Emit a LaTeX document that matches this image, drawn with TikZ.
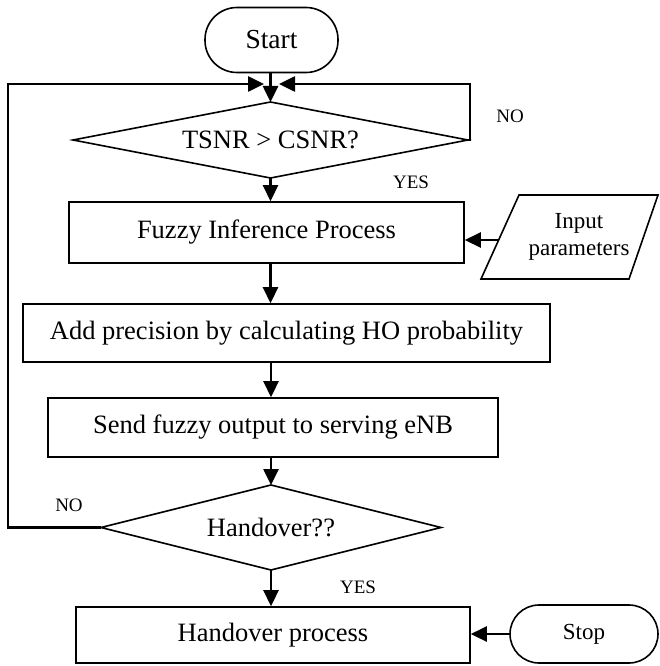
\documentclass[tikz,border=0pt]{standalone}
\usepackage{fontspec}
\setmainfont{Liberation Serif}
\usetikzlibrary{arrows.meta}
\begin{document}
\begin{tikzpicture}[x=1pt,y=-1pt,
  shape line/.style={draw, line width=1.6pt},
  box/.style={shape line, rectangle, inner sep=0pt, font=\fontsize{26.5}{30}\selectfont},
  term/.style={shape line, rectangle, inner sep=0pt},
  dtext/.style={inner sep=0pt, font=\fontsize{26.5}{30}\selectfont},
  conn/.style={line width=2.6pt, -{Triangle[length=16pt,width=15pt]}},
  lbl/.style={font=\fontsize{19}{21}\selectfont, inner sep=0pt}]
\useasboundingbox (0,0) rectangle (659,666);

% nodes
\node[term, rounded corners=32pt, minimum width=133pt, minimum height=65pt,
      font=\fontsize{27.5}{30}\selectfont] (start) at (271.5,40) {Start};

% decision 1 (drawn as a path)
\coordinate (d1n) at (270.5,102);
\coordinate (d1s) at (270.5,178);
\coordinate (d1w) at (73,140);
\coordinate (d1e) at (468,140);
\draw[shape line, line join=miter] (d1n) -- (d1e) -- (d1s) -- (d1w) -- cycle;
\node[dtext] (d1) at (270.5,140) {TSNR > CSNR?};

\node[box, minimum width=395pt, minimum height=61pt] (fuzzy) at (266.5,232.5) {Fuzzy Inference Process};
\node[box, minimum width=527pt, minimum height=58pt] (add) at (286.5,333) {Add precision by calculating HO probability};
\node[box, minimum width=450pt, minimum height=59pt] (send) at (273,427.5) {Send fuzzy output to serving eNB};

% decision 2 (drawn as a path)
\coordinate (d2n) at (271,485);
\coordinate (d2s) at (271,570);
\coordinate (d2w) at (101,527.5);
\coordinate (d2e) at (441,527.5);
\draw[shape line, line join=miter] (d2n) -- (d2e) -- (d2s) -- (d2w) -- cycle;
\node[dtext] (d2) at (271,527.5) {Handover??};

\node[box, minimum width=394pt, minimum height=56pt] (ho) at (273,635) {Handover process};
\node[term, rounded corners=29pt, minimum width=148pt, minimum height=58pt,
      font=\fontsize{23}{26}\selectfont] (stop) at (584,634) {Stop};

% input parallelogram
\draw[shape line] (519,195) -- (658,195) -- (629,279) -- (481,279) -- cycle;
\node[align=center, inner sep=0pt, font=\fontsize{23}{27}\selectfont] (inp) at (579,237) {Input\\parameters};
\coordinate (inpL) at (499,240);

% labels
\node[lbl] (no1) at (510,116) {NO};
\node[lbl] (yes1) at (411,182) {YES};
\node[lbl] (no2) at (69,505) {NO};
\node[lbl] (yes2) at (358,587) {YES};

% loop junction coordinates
\coordinate (jL) at (8,84);
\coordinate (jR) at (470,84);
\coordinate (tipL) at (264,84);
\coordinate (tipR) at (279,84);

% connectors
\draw[conn] (start.south -| d1n) -- (d1n);
\draw[conn] (d1s) -- (fuzzy.north -| d1s);
\draw[conn] (fuzzy.south -| d1s) -- (add.north -| d1s);
\draw[conn] (add.south -| d2n) -- (send.north -| d2n);
\draw[conn] (send.south -| d2n) -- (d2n);
\draw[conn] (d2s) -- (ho.north -| d2s);
\draw[conn] (inpL) -- (fuzzy.east |- inpL);
\draw[conn] (stop.west) -- (ho.east |- stop.west);
\draw[conn] (d2w) -| (jL) -- (tipL);
\draw[conn] (d1e) -| (jR) -- (tipR);
\end{tikzpicture}
\end{document}
